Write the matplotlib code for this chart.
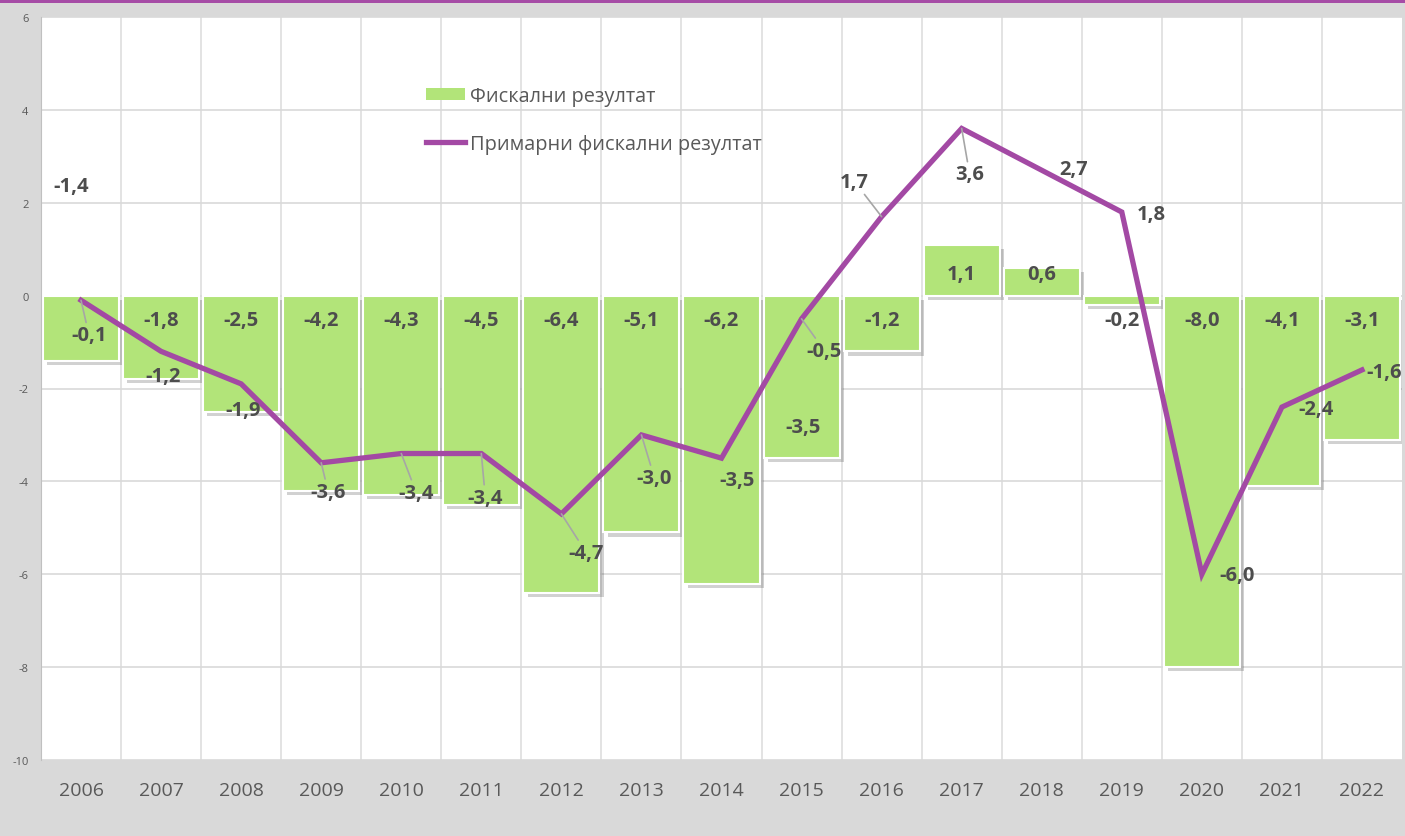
import matplotlib.pyplot as plt
import matplotlib.patheffects as pe
from matplotlib.patches import Rectangle, Patch
from matplotlib.lines import Line2D

plt.rcParams['font.family'] = ['Open Sans', 'DejaVu Sans']
plt.rcParams['axes.unicode_minus'] = False

years = ['2006', '2007', '2008', '2009', '2010', '2011', '2012', '2013', '2014',
         '2015', '2016', '2017', '2018', '2019', '2020', '2021', '2022']
fiscal = [-1.4, -1.8, -2.5, -4.2, -4.3, -4.5, -6.4, -5.1, -6.2,
          -3.5, -1.2, 1.1, 0.6, -0.2, -8.0, -4.1, -3.1]
primary = [-0.1, -1.2, -1.9, -3.6, -3.4, -3.4, -4.7, -3.0, -3.5,
           -0.5, 1.7, 3.6, 2.7, 1.8, -6.0, -2.4, -1.6]
legend_labels = ['Фискални резултат', 'Примарни фискални резултат']

# label placement (pixel offsets from the point), Excel-style manual moves
line_offsets = [(8, -35), (2, -25), (2, -26), (7, -29), (15, -39), (4, -44), (25, -39),
                (13, -43), (16, -22), (23, -32), (-27, 35), (8, -46), (32, 1),
                (30, -2), (35, -1), (34, -2), (22, -2)]
line_leaders = [True, False, False, True, True, True, True, True, False,
                True, True, True, False, False, False, False, False]
bar_offset_override = {0: (-10, 110), 9: (2, -131)}

GREEN = '#b2e479'
PURPLE = '#a349a4'
TXT = '#4d4d4d'
BG = '#d9d9d9'

fig = plt.figure(figsize=(14.05, 8.37), dpi=100, facecolor=BG)
ax = fig.add_axes([41 / 1405, 76 / 837, 1361 / 1405, 743 / 837])
ax.set_facecolor('white')

# purple stripe along the top
fig.patches.append(Rectangle((0, 1 - 4 / 837), 1, 4 / 837, transform=fig.transFigure,
                             facecolor='#a64ca6', edgecolor='none'))

x = list(range(len(years)))
bars = ax.bar(x, fiscal, width=0.95, color=GREEN, edgecolor='white', linewidth=1.5, zorder=2)
for b in bars:
    b.set_path_effects([pe.SimplePatchShadow(offset=(3, -3), shadow_rgbFace='black', alpha=0.18),
                        pe.Normal()])

ax.plot(x, primary, color=PURPLE, lw=3.8, zorder=3, solid_joinstyle='miter')

fmt = lambda v: f'{v:.1f}'.replace('.', ',')

# bar labels (inside base)
for i, v in enumerate(fiscal):
    off = bar_offset_override.get(i, (0, 22 if v > 0 else -24))
    ax.annotate(fmt(v), (i, 0), xytext=off, textcoords='offset pixels',
                ha='center', va='center', fontsize=14.5, fontweight='bold',
                color=TXT, zorder=5)

# line labels
for i, v in enumerate(primary):
    arrow = dict(arrowstyle='-', color='#a6a6a6', lw=1.2, shrinkA=0, shrinkB=0) \
        if line_leaders[i] else None
    ax.annotate(fmt(v), (i, v), xytext=line_offsets[i], textcoords='offset pixels',
                ha='center', va='center', fontsize=14.5, fontweight='bold',
                color=TXT, zorder=6, arrowprops=arrow)

ax.set_xlim(-0.5, len(years) - 0.5)
ax.set_ylim(-10, 6)
ax.set_yticks(range(-10, 7, 2))
ax.set_xticks(x)
ax.set_xticklabels(years)
ax.set_xticks([i + 0.5 for i in x[:-1]], minor=True)
ax.tick_params(axis='y', length=0, labelsize=8, labelcolor='#595959', pad=9)
ax.tick_params(axis='x', which='both', length=0, labelsize=14, labelcolor='#595959', pad=15)
ax.grid(axis='y', color='#d9d9d9', lw=1.2, zorder=0)
ax.grid(axis='x', which='minor', color='#dedede', lw=1.2, zorder=0)
ax.set_axisbelow(True)
for s in ['top', 'right', 'bottom']:
    ax.spines[s].set_visible(False)
ax.spines['left'].set_color('#c0c0c0')

handles = [Patch(facecolor=GREEN, edgecolor='none'),
           Line2D([], [], color=PURPLE, lw=3.8)]
ax.legend(handles, legend_labels, loc='upper left',
          bbox_to_anchor=((426 - 41) / 1361, (761 - 87) / 743),
          frameon=False, fontsize=14.3, labelcolor='#595959', borderpad=0, borderaxespad=0,
          labelspacing=1.4, handlelength=1.95, handletextpad=0.25, handleheight=0.6)

fig.savefig('out.png', dpi=100, facecolor=BG)
